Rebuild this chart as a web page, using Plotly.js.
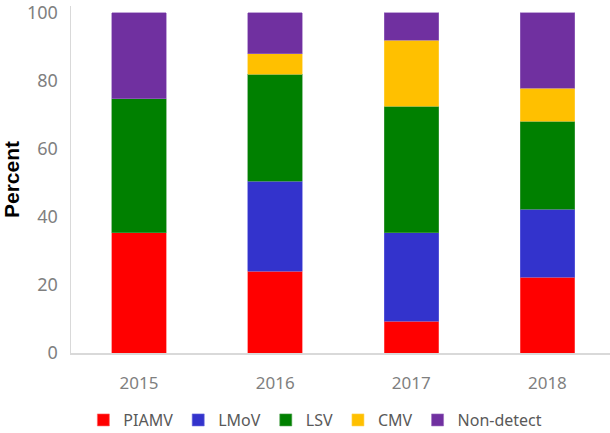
<!DOCTYPE html>
<html><head><meta charset="utf-8">
<script src="https://cdn.plot.ly/plotly-3.0.1.min.js"></script>
<style>html,body{margin:0;padding:0;background:#fff}#chart{width:610px;height:433px}</style>
</head><body><div id="chart"></div>
<script>
const years = ['2015','2016','2017','2018'];
const PIAMV = [35.3, 24.0, 9.3, 22.2];
const LMoV = [0, 26.5, 26.1, 20.0];
const LSV = [39.4, 31.4, 37.1, 25.9];
const CMV = [0, 6.1, 19.4, 9.7];
const NonDetect = [25.3, 12.0, 8.1, 22.2];
const seriesNames = ['PIAMV','LMoV','LSV','CMV','Non-detect'];
const seriesVals = [PIAMV, LMoV, LSV, CMV, NonDetect];
const colors = ['#FF0000','#3333CC','#008000','#FFC000','#7030A0'];
const lineColors = ['#ff6666','#6666dd','#4d9f4d','#ffd24d','#9a6cc0'];

const traces = seriesNames.map((n,i)=>({
  type:'bar', name:n, x:years, y:seriesVals[i], width:0.4,
  marker:{color:colors[i], line:{color:lineColors[i], width:0.6}},
  hoverinfo:'skip'
}));

const layout = {
  width:610, height:433,
  margin:{l:71, r:0, t:6, b:80, autoexpand:false},
  barmode:'stack',
  paper_bgcolor:'#fff', plot_bgcolor:'#fff',
  font:{family:'"Noto Sans", "Open Sans", sans-serif', color:'#595959', size:17},
  xaxis:{type:'category', range:[-0.5,3.46], showline:true, linecolor:'#d9d9d9', linewidth:1.5, ticks:'', showgrid:false, zeroline:false,
    tickfont:{size:17, color:'#7f7f7f'}, ticklabelstandoff:14, automargin:false},
  yaxis:{range:[0,102], tickvals:[0,20,40,60,80,100], showline:true, linecolor:'#d9d9d9', linewidth:1.5, ticks:'', showgrid:false, zeroline:false,
    tickfont:{size:18, color:'#7f7f7f'}, ticklabelstandoff:8, ticklabeloverflow:'allow', automargin:true,
    title:{text:'Percent', font:{family:'"Liberation Sans", Arial, sans-serif', size:21, color:'#000', weight:'bold'}, standoff:3}},
  legend:{orientation:'h', x:0.517, xanchor:'center', xref:'container', yref:'container', y:0.03, yanchor:'middle', font:{size:16, color:'#595959'}, itemwidth:30, traceorder:'normal'},
  showlegend:true
};
Plotly.newPlot('chart', traces, layout, {displayModeBar:false, staticPlot:true});
</script></body></html>
